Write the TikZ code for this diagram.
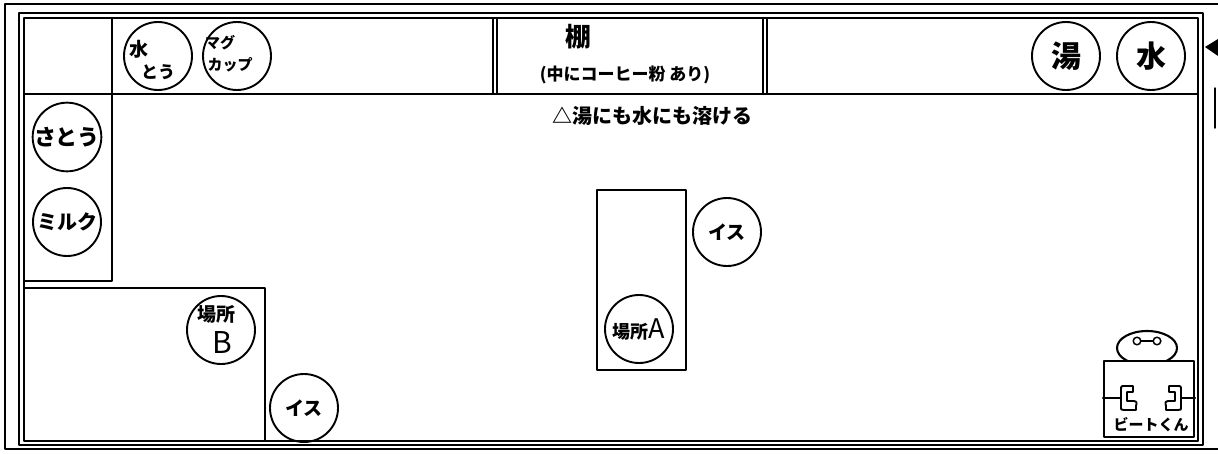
\documentclass[tikz,border=0pt]{standalone}
\usepackage{fontspec}
\newfontfamily\jp{Noto Sans CJK JP}
\newcommand{\fs}[1]{\fontsize{#1}{#1}\selectfont}
\begin{document}
\begin{tikzpicture}[x=1pt,y=-1pt,line cap=round,line join=round,
  frame/.style={line width=2pt},
  wall/.style={line width=2pt},
  furn/.style={line width=2.1pt},
  item/.style={circle,draw,line width=1.9pt,minimum size=68pt,inner sep=0pt,
               font=\jp\bfseries\fs{18},align=center},
  txt/.style={inner sep=0pt,font=\jp\bfseries\fs{16}},
  hand/.style={line width=1.9pt}]
\useasboundingbox (0,0) rectangle (1218,453);
\fill[white] (0,0) rectangle (1218,453);

% page frame
\draw[frame] (1218,4) -- (5,4) -- (5,449) -- (1218,449);

% room walls (double line)
\draw[wall] (19,13) rectangle (1203,445);
\draw[wall] (24,18) rectangle (1198,441);

% counter along the top wall
\draw[furn] (24,94) -- (1198,94);
\draw[furn] (112,18) -- (112,281) -- (24,281);

% cupboard with its double sides
\draw[furn] (493,18) -- (493,94);
\draw[furn] (497,18) -- (497,94);
\draw[furn] (763,18) -- (763,94);
\draw[furn] (767,18) -- (767,94);
\node[txt,font=\jp\bfseries\fs{26}] (tana) at (578,37) {棚};
\node[txt,font=\jp\bfseries\fs{17}] (tananote) at (625,75) {(中にコーヒー粉 あり)};
\node[txt,font=\jp\bfseries\fs{20}] (note) at (652,116) {△湯にも水にも溶ける};

% items on the counter
\node[item] (suitou) at (158,56) {};
\node[txt,font=\jp\bfseries\fs{19}] (suitouA) at (139,49) {水};
\node[txt,font=\jp\bfseries\fs{17}] (suitouB) at (158,72) {とう};
\node[item] (mug) at (237,56) {};
\node[txt,font=\jp\bfseries\fs{15}] (mugA) at (220,43) {マグ};
\node[txt,font=\jp\bfseries\fs{15}] (mugB) at (230,65) {カップ};
\node[item,font=\jp\bfseries\fs{30}] (yu) at (1066,56) {湯};
\node[item,font=\jp\bfseries\fs{30}] (mizu) at (1151,56) {水};
\node[item,font=\jp\bfseries\fs{22}] (satou) at (67,137) {さとう};
\node[item,font=\jp\bfseries\fs{20}] (milk) at (67,222) {ミルク};

% table B with its stool
\draw[furn] (24,288) -- (265,288) -- (265,441);
\node[item] (bashoB) at (221,330) {};
\node[txt,font=\jp\bfseries\fs{19}] (bashoBa) at (216,314) {場所};
\node[txt,font=\jp\fs{30}] (bashoBb) at (222,342) {B};
\node[item,font=\jp\bfseries\fs{19}] (isu1) at (304,408) {イス};

% table A with its stool
\draw[furn] (597,190) rectangle (686,370);
\node[item] (bashoA) at (639,329) {{\fs{18}場所}{\mdseries\fs{27}A}};
\node[item,font=\jp\bfseries\fs{19}] (isu2) at (727,232) {イス};

% robot
\draw[furn] (1147,348) ellipse [x radius=30, y radius=17];
\draw[line width=1.5pt] (1137,341) circle [radius=3.8];
\draw[line width=1.5pt] (1157,341) circle [radius=3.8];
\draw[line width=1.5pt] (1140.8,341) -- (1153.2,341);
\node[draw,fill=white,line width=2.1pt,minimum width=90pt,minimum height=76pt,
      inner sep=0pt] (body) at (1149,399) {};
\coordinate (lhand) at (1121,398);
\coordinate (rhand) at (1181,398);
\draw[hand] (lhand -| body.west) -- (lhand);
\draw[hand] (rhand -| body.east) -- (rhand);
\begin{scope}[shift={(1121,398)}]
  \draw[hand] (0,0) -- (0,-8) .. controls (0,-12) .. (4,-12) -- (12,-12) -- (12,-6)
    -- (6,-6) -- (6,3) -- (13,3) .. controls (16,4) .. (15,8) -- (15,12) -- (3,12)
    .. controls (0,12) .. (0,8) -- cycle;
\end{scope}
\begin{scope}[shift={(1181,398)},xscale=-1]
  \draw[hand] (0,0) -- (0,-8) .. controls (0,-12) .. (4,-12) -- (12,-12) -- (12,-6)
    -- (6,-6) -- (6,3) -- (13,3) .. controls (16,4) .. (15,8) -- (15,12) -- (3,12)
    .. controls (0,12) .. (0,8) -- cycle;
\end{scope}
\node[txt,font=\jp\bfseries\fs{15}] (robotname) at (1151,425) {ビートくん};

% marker beyond the right edge
\fill (1205,47) -- (1218,39) -- (1218,56) -- cycle;
\draw[line width=1.5pt] (1215,88) -- (1215,128);
\end{tikzpicture}
\end{document}
